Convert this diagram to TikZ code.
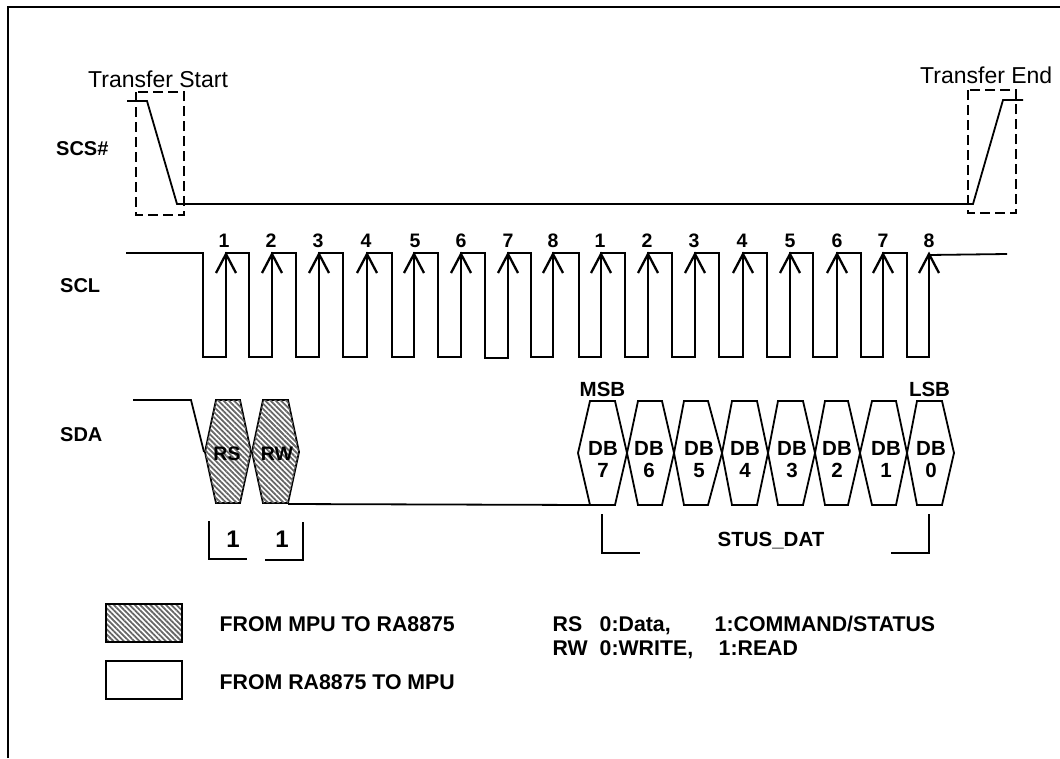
\documentclass[tikz,border=0pt]{standalone}
\usepackage{fontspec}
\setmainfont{Liberation Sans}
\usetikzlibrary{patterns.meta}
\newcommand{\fs}[1]{\fontsize{#1}{#1}\selectfont}
\tikzset{
  x=1pt,y=-1pt,
  wave/.style={line width=1.8pt,line join=miter},
  arrowv/.style={line width=2.3pt,line join=miter},
  dashbox/.style={line width=1.7pt,dash pattern=on 10pt off 5pt},
  hatchfill/.style={pattern={Lines[angle=-45,distance=3.7pt,line width=1.8pt]},pattern color=black!60},
  clock/.style={font=\bfseries\fs{19.5},inner sep=0pt,anchor=base},
  sig/.style={font=\bfseries\fs{20},inner sep=0pt,anchor=base west},
  normal/.style={font=\fs{23},inner sep=0pt,anchor=base west},
  bit/.style={font=\bfseries\fontsize{20.5}{22}\selectfont,inner sep=0pt,align=center},
  boldlab/.style={font=\bfseries\fs{20.5},inner sep=0pt,anchor=base},
  legend/.style={font=\bfseries\fs{21.3},inner sep=0pt,anchor=base west},
}
\newcommand{\hex}[7]{% left tl tr right name digit textx
  \draw[wave,fill=white] (#1,453)--(#2,401)--(#3,401)--(#4,453)--(#3,505)--(#2,505)--cycle;
  \node[bit] (#5) at (#7,459.5) {\rule{0pt}{15pt}DB\\#6\rule[-2pt]{0pt}{2pt}};
}
\newcommand{\tick}[3]{% x label-x digit
  \draw[arrowv] (#1,357)--(#1,254);
  \draw[arrowv] (#1-10,273)--(#1,254)--(#1+10,273);
  \node[clock] (clk#1) at (#2,247) {#3};
}
\begin{document}
\begin{tikzpicture}
\useasboundingbox (0,0) rectangle (1060,758);
\fill[white] (0,0) rectangle (1060,758);
% frame
\draw[line width=2pt] (8,758)--(8,7)--(1060,7);
% labels
\node[normal] (ts) at (88,87) {Transfer Start};
\node[normal] (te) at (920,83) {Transfer End};
\node[sig] (scs) at (56,155) {SCS\#};
\node[sig] (scl) at (60,292) {SCL};
\node[sig] (sda) at (60,441) {SDA};
% SCS
\draw[dashbox] (136,92) rectangle (184,215);
\draw[dashbox] (968,90) rectangle (1016,213);
\draw[wave] (127,101)--(147,101)--(177,204)--(973,204)--(1003,100)--(1023,100);
% SCL
\draw[wave] (126,253)--(203,253)--(203,357)--(226,357)--(226,253)
 --(249,253)--(249,357)--(272,357)--(272,253)
 --(296,253)--(296,357)--(319,357)--(319,253)
 --(343,253)--(343,357)--(367,357)--(367,253)
 --(392,253)--(392,357)--(414,357)--(414,253)
 --(438,253)--(438,357)--(461,357)--(461,253)
 --(485,253)--(485,358)--(508,358)--(508,253)
 --(531,253)--(531,357)--(553,357)--(553,253)
 --(579,253)--(579,357)--(601,357)--(601,253)
 --(625,253)--(625,357)--(648,357)--(648,253)
 --(672,253)--(672,357)--(695,357)--(695,253)
 --(719,253)--(719,357)--(743,357)--(743,253)
 --(767,253)--(767,357)--(790,357)--(790,253)
 --(813,253)--(813,357)--(837,357)--(837,253)
 --(861,253)--(861,357)--(883,357)--(883,253)
 --(907,253)--(907,357)--(929,357)--(929,255)--(1007,254);
\tick{226}{224}{1}\tick{272}{271}{2}\tick{319}{318}{3}\tick{367}{366}{4}
\tick{414}{415}{5}\tick{461}{461}{6}\tick{508}{508}{7}\tick{553}{553}{8}
\tick{601}{600}{1}\tick{648}{647}{2}\tick{695}{694}{3}\tick{743}{742}{4}
\tick{790}{790}{5}\tick{837}{837}{6}\tick{883}{883}{7}\tick{929}{929}{8}
% SDA
\draw[wave] (133,400)--(191,400)--(204,452);
\draw[wave,fill=white] (205,452)--(216,400)--(240,400)--(251,452)--(240,503)--(216,503)--cycle;
\fill[hatchfill] (205,452)--(216,400)--(240,400)--(251,452)--(240,503)--(216,503)--cycle;
\draw[wave,fill=white] (252,452)--(263,400)--(288,400)--(299,452)--(288,503)--(263,503)--cycle;
\fill[hatchfill] (252,452)--(263,400)--(288,400)--(299,452)--(288,503)--(263,503)--cycle;
\draw[wave] (288,504)--(590,505);
\node[font=\bfseries\fs{19.5},inner sep=0pt,anchor=base] (rs) at (227,460) {RS};
\node[font=\bfseries\fs{19.5},inner sep=0pt,anchor=base] (rw) at (277,460) {RW};
\hex{578}{590}{615}{627}{d7}{7}{603}
\hex{627}{638}{662}{674}{d6}{6}{649}
\hex{674}{684}{708}{722}{d5}{5}{699}
\hex{722}{732}{757}{768}{d4}{4}{745}
\hex{768}{778}{803}{815}{d3}{3}{792}
\hex{815}{825}{848}{860}{d2}{2}{837}
\hex{860}{872}{896}{907}{d1}{1}{886}
\hex{907}{917}{942}{954}{d0}{0}{931}
\node[boldlab] (msb) at (602.5,396) {MSB};
\node[boldlab] (lsb) at (929.5,396) {LSB};
% brackets
\draw[wave] (209,521)--(209,559)--(247,559);
\draw[wave] (265,560)--(303,560)--(303,522);
\node[font=\bfseries\fs{24},inner sep=0pt,anchor=base] (o1) at (233,547) {1};
\node[font=\bfseries\fs{24},inner sep=0pt,anchor=base] (o2) at (282,547) {1};
\draw[wave] (602,514)--(602,553)--(640,553);
\draw[wave] (891,553)--(929,553)--(929,514);
\node[boldlab] (stus) at (771,546) {STUS\_DAT};
% legend
\draw[line width=1.8pt,fill=white] (106,604) rectangle (182,642);
\fill[hatchfill] (106,604) rectangle (182,642);
\draw[line width=1.8pt] (106,604) rectangle (182,642);
\draw[line width=1.8pt,fill=white] (106,661) rectangle (182,699);
\node[legend] (l1) at (219.5,631) {FROM MPU TO RA8875};
\node[legend] (l2) at (219.5,689) {FROM RA8875 TO MPU};
\node[legend] (r1) at (552.5,631) {\makebox[47pt][l]{RS}\makebox[115pt][l]{0:Data,}1:COMMAND/STATUS};
\node[legend] (r2) at (552.5,655) {\makebox[47pt][l]{RW}\makebox[119pt][l]{0:WRITE,}1:READ};
\end{tikzpicture}
\end{document}
